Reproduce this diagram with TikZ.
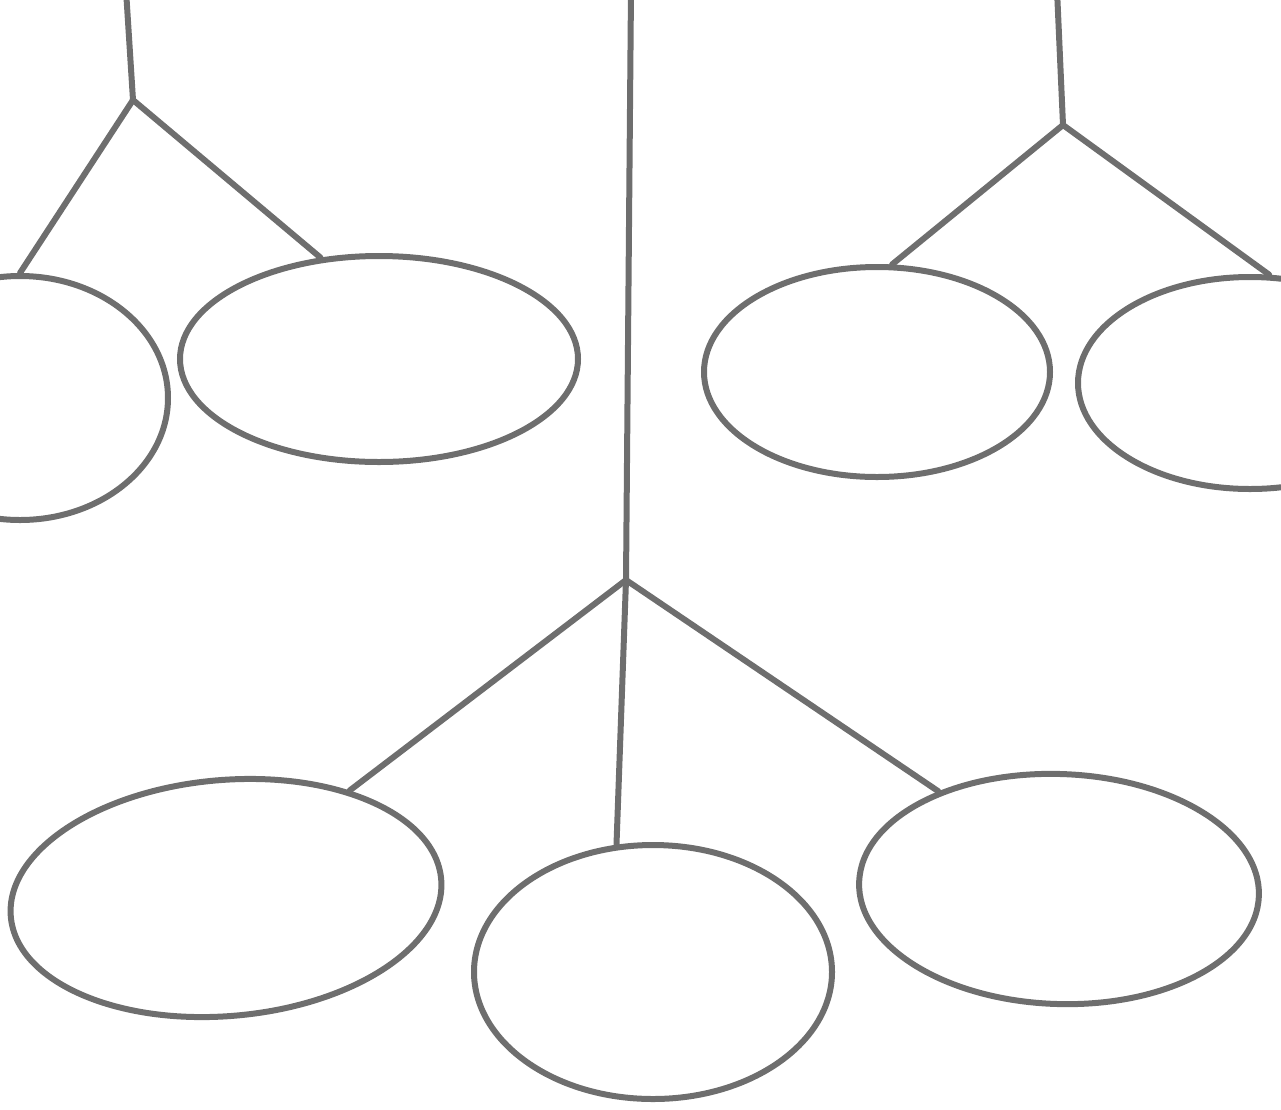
\documentclass[tikz,border=0pt]{standalone}
\usetikzlibrary{shapes.geometric}
\definecolor{Pencil}{HTML}{6E6E6E}
\tikzset{
  blob/.style={draw=Pencil,ellipse,line width=6pt,inner sep=0pt},
  stem/.style={draw=Pencil,line width=6pt,line cap=round,line join=round}
}
\begin{document}
\begin{tikzpicture}[x=1pt,y=-1pt]
\useasboundingbox (0,0) rectangle (1281,1109);
\clip (0,0) rectangle (1281,1109);
% upper left pair
\coordinate (topA) at (126,-10);
\coordinate (forkA) at (133,100);
\node[blob,minimum width=296pt,minimum height=244pt] (leafA) at (20,398) {};
\node[blob,minimum width=398pt,minimum height=206pt] (leafB) at (379,359) {};
% upper right pair
\coordinate (topB) at (1057,-10);
\coordinate (forkB) at (1063,125);
\node[blob,minimum width=346pt,minimum height=210pt] (leafC) at (877,372) {};
\node[blob,minimum width=344pt,minimum height=212pt] (leafG) at (1250,383) {};
% lower group
\coordinate (topC) at (631,-10);
\coordinate (forkC) at (626,580);
\node[blob,minimum width=432pt,minimum height=236pt,rotate=5] (leafD) at (226,898) {};
\node[blob,minimum width=358pt,minimum height=254pt] (leafE) at (653,972) {};
\node[blob,minimum width=400pt,minimum height=230pt,rotate=-2] (leafF) at (1059,889) {};
\draw[stem] (topA) -- (forkA);
\draw[stem] (forkA) -- (leafA.north);
\draw[stem] (forkA) -- (leafB.120);
\draw[stem] (topB) -- (forkB);
\draw[stem] (forkB) -- (leafC.82);
\draw[stem] (forkB) -- (leafG.80);
\draw[stem] (topC) -- (forkC);
\draw[stem] (forkC) -- (leafD.36);
\draw[stem] (forkC) -- (leafE.106);
\draw[stem] (forkC) -- (leafF.143);
\end{tikzpicture}
\end{document}
